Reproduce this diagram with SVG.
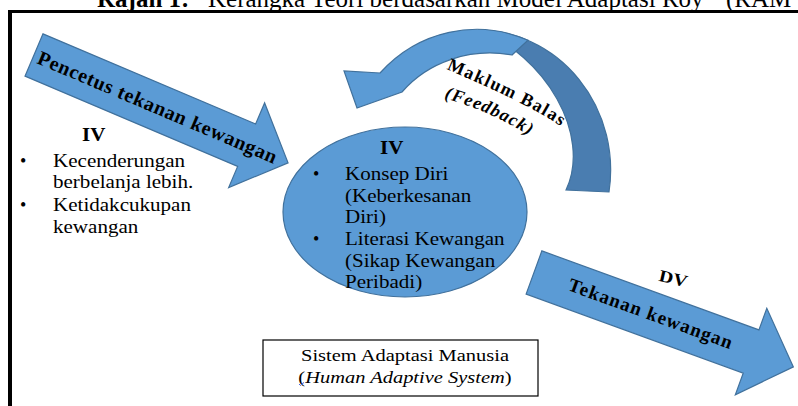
<svg xmlns="http://www.w3.org/2000/svg" width="798" height="406" viewBox="0 0 798 406">
  <style>
    .serif { font-family: "Liberation Serif", "Times New Roman", serif; fill: #000; }
    .b { font-weight: bold; }
    .shape { fill: #5b9bd5; stroke: #41719c; stroke-width: 1.2; }
    .back { fill: #4a7db0; stroke: #41719c; stroke-width: 1.2; }
    .body { font-size: 18px; }
  </style>
  <defs>
    <!-- baselines for the curved feedback label -->
    <path id="fbTop" d="M446,69 Q534.6,106.6 563,128"/>
    <path id="fbSub" d="M444,98 Q493,112 531,137"/>
  </defs>

  <rect width="798" height="406" fill="#fff"/>

  <!-- caption, clipped by the page top -->
  <g id="title" class="serif">
    <text y="7" font-size="25"><tspan x="97" font-weight="bold">Rajah 1:</tspan><tspan x="208">Kerangka Teori berdasarkan Model Adaptasi Roy</tspan><tspan x="726">(RAM</tspan></text>
  </g>

  <!-- frame -->
  <g id="frame" fill="none" stroke="#000">
    <path d="M8,11.5 H798" stroke-width="3"/>
    <path d="M10,10 V406" stroke-width="4"/>
  </g>

  <g id="connectors">
    <!-- input arrow -->
    <g id="pencetus" transform="translate(34,55) rotate(23)">
      <polygon class="shape" points="0,-23 231,-23 231,-46 276,0 231,46 231,23 0,23"/>
      <text class="serif b" x="5" y="6.5" font-size="20" textLength="258">Pencetus tekanan kewangan</text>
    </g>

    <!-- output arrow -->
    <g id="tekanan" transform="translate(534,272.5) rotate(20)">
      <polygon class="shape" points="0,-23 231,-23 231,-46 276,0 231,46 231,23 0,23"/>
      <text class="serif b" x="37" y="5" font-size="19" textLength="173">Tekanan kewangan</text>
    </g>
    <text class="serif b" transform="translate(672,284) rotate(13) scale(1.17,1)" text-anchor="middle" font-size="17">DV</text>

    <!-- feedback loop arrow -->
    <g id="feedback">
      <path class="back" d="M478,30 A133,140 0 0 1 609,192 L566,190 C592,135 545,55 478,30 Z"/>
      <path class="shape" d="M380,73 A133,140 0 0 1 528,40.3 L512,55 A112,102 0 0 0 402,92 L357,108 L344,71 Z"/>
      <text class="serif b" font-size="18" letter-spacing="1.4"><textPath href="#fbTop">Maklum Balas</textPath></text>
      <text class="serif b" font-size="18" font-style="italic" letter-spacing="1"><textPath href="#fbSub">(Feedback)</textPath></text>
    </g>
  </g>

  <!-- stressor list -->
  <g id="stressors" class="serif body">
    <text class="b" transform="translate(82,141) scale(1.17,1)">IV</text>
    <text x="20" y="167">•</text>
    <text x="20" y="211">•</text>
    <g transform="translate(53,0) scale(1.17,1)">
      <text y="167">Kecenderungan</text>
      <text y="188">berbelanja lebih.</text>
      <text y="211">Ketidakcukupan</text>
      <text y="233">kewangan</text>
    </g>
  </g>

  <!-- adaptive system core -->
  <g id="self">
    <ellipse class="shape" cx="405" cy="212" rx="122" ry="85"/>
    <g class="serif body">
      <text class="b" transform="translate(380,154) scale(1.17,1)">IV</text>
      <text x="313" y="180">•</text>
      <text x="313" y="245">•</text>
      <g transform="translate(345,0) scale(1.17,1)">
        <text y="180">Konsep Diri</text>
        <text y="202">(Keberkesanan</text>
        <text y="223">Diri)</text>
        <text y="245">Literasi Kewangan</text>
        <text y="267">(Sikap Kewangan</text>
        <text y="288">Peribadi)</text>
      </g>
    </g>
  </g>

  <!-- system label -->
  <g id="system">
    <rect x="263" y="340" width="275" height="56" fill="#fff" stroke="#000" stroke-width="1.2"/>
    <g class="serif" font-size="17.5" text-anchor="middle">
      <text transform="translate(405,361) scale(1.17,1)">Sistem Adaptasi Manusia</text>
      <text transform="translate(405,383) scale(1.17,1)">(<tspan font-style="italic">Human Adaptive System</tspan>)</text>
    </g>
    <path d="M299,384 q1.5,3 3,0 q1,-2 2,-1" fill="none" stroke="#4a63e0" stroke-width="1"/>
  </g>
</svg>
